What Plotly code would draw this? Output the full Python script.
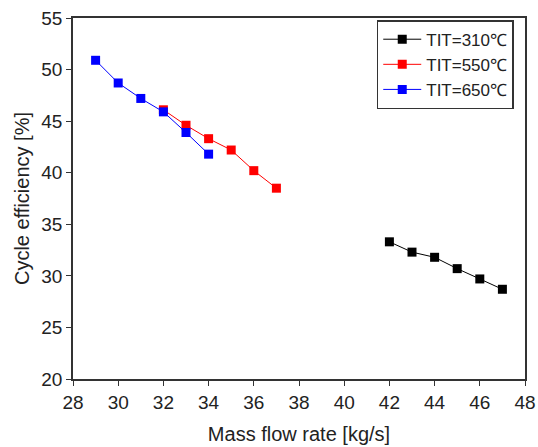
import plotly.graph_objects as go

x_310 = [42, 43, 44, 45, 46, 47]
y_310 = [33.3, 32.3, 31.8, 30.7, 29.7, 28.7]
x_550 = [32, 33, 34, 35, 36, 37]
y_550 = [46.1, 44.6, 43.3, 42.2, 40.2, 38.5]
x_650 = [29, 30, 31, 32, 33, 34]
y_650 = [50.9, 48.7, 47.2, 45.9, 43.9, 41.8]

names = ["TIT=310℃", "TIT=550℃", "TIT=650℃"]
colors = ["#000000", "#ff0000", "#0000ff"]

fig = go.Figure()
for xs, ys, n, c in zip([x_310, x_550, x_650], [y_310, y_550, y_650], names, colors):
    fig.add_trace(go.Scatter(
        x=xs, y=ys, name=n, mode="lines+markers",
        line=dict(color=c, width=1),
        marker=dict(symbol="square", size=9, color=c),
    ))

FONT = "Liberation Sans, Arial"
axis_common = dict(
    showgrid=False, zeroline=False, showline=True, linecolor="#333333", linewidth=1.5,
    mirror=True, ticks="outside", ticklen=5, tickcolor="#333333", tickwidth=1.2,
    tickfont=dict(family=FONT, size=19, color="#222222"), automargin=False,
)

fig.update_layout(
    width=538, height=447,
    margin=dict(l=73, r=13, t=18, b=68),
    paper_bgcolor="white", plot_bgcolor="white",
    xaxis=dict(range=[28, 48], dtick=2, tick0=28,
               title=dict(text="Mass flow rate [kg/s]", standoff=15,
                          font=dict(family=FONT, size=20, color="#222222")),
               **axis_common),
    yaxis=dict(range=[20, 55], dtick=5, tick0=20,
               title=dict(text="Cycle efficiency [%]", standoff=6,
                          font=dict(family=FONT, size=20, color="#222222")),
               **axis_common),
    legend=dict(x=0.672, y=0.994, xanchor="left", yanchor="top",
                bordercolor="#333333", borderwidth=1.5, bgcolor="white",
                font=dict(family=FONT, size=17, color="#222222"),
                itemwidth=38, tracegroupgap=0),
    showlegend=True,
)

fig.write_html("out.html")
